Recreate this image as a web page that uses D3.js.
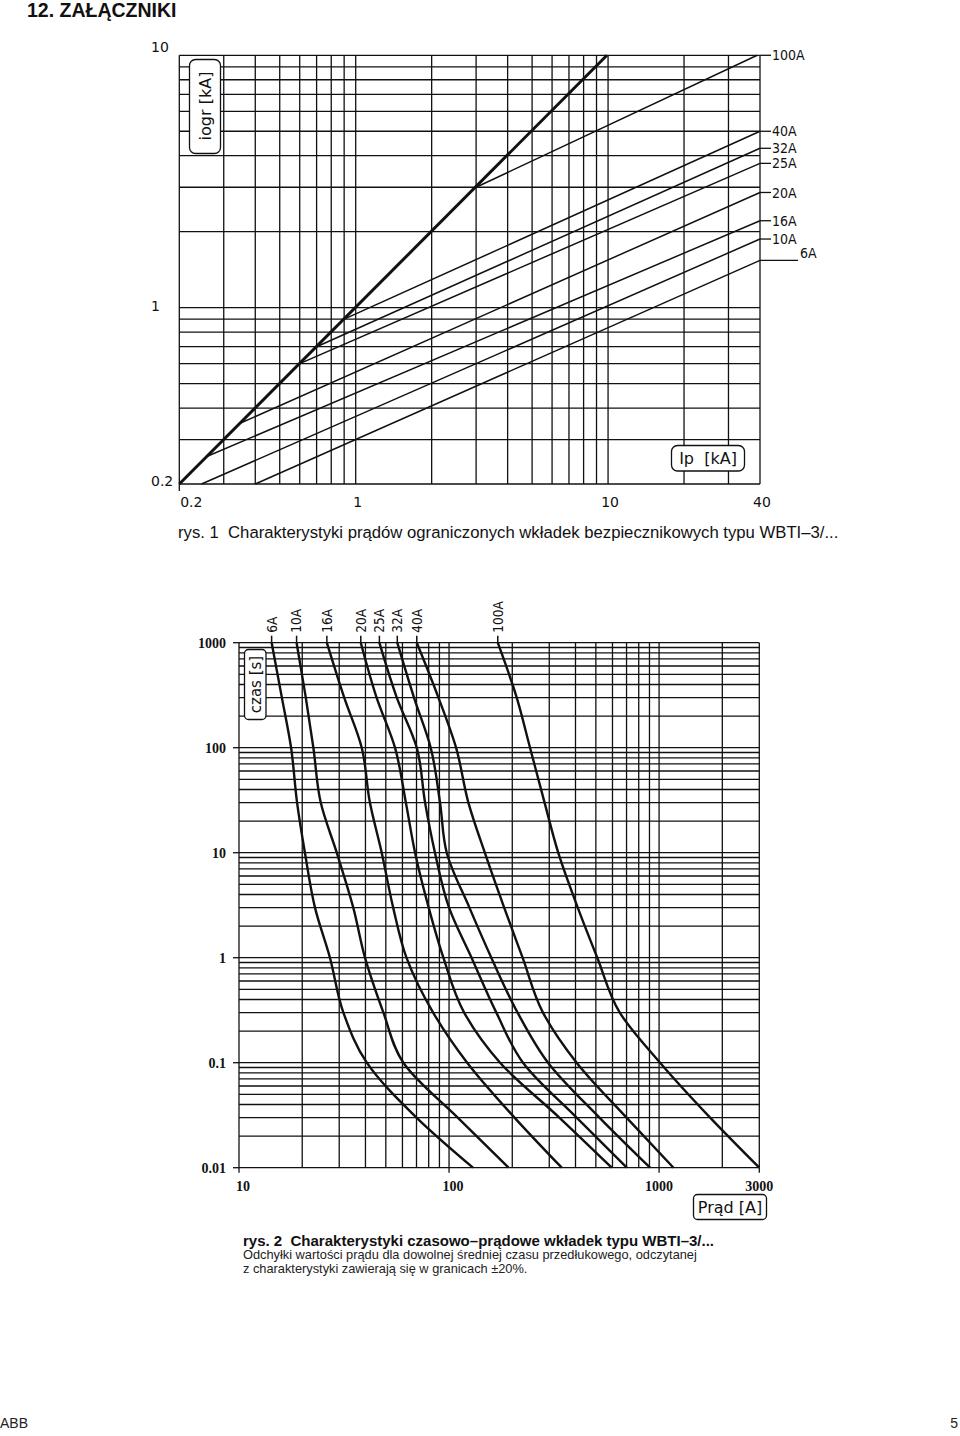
<!DOCTYPE html>
<html><head><meta charset="utf-8">
<script src="https://cdn.jsdelivr.net/npm/d3@7"></script>
<style>body{margin:0;background:#fff}</style>
</head><body>
<svg id="c" width="960" height="1436"></svg>
<script>
// ---------- DATA: chart 1 (limited peak current) ----------
const ipGridX = [0.2,0.3,0.4,0.5,0.6,0.7,0.8,0.9,1,2,3,4,5,6,7,8,9,10,20,30,40];
const ipGridY = [0.2,0.3,0.4,0.5,0.6,0.7,0.8,0.9,1,2,3,4,5,6,7,8,9,10];
const ipTickX = [0.2,1,10,40];
const ipTickXLabels = ["0.2","1","10","40"];
const ipTickY = [0.2,1,10];
const ipTickYLabels = ["0.2","1","10"];
const fuseNames = ["6A","10A","16A","20A","25A","32A","40A","100A"];
const limStartI = [0.4,0.245,0.257,0.348,0.6,0.7,0.9,3.0];
const limStartV = [0.2,0.2,0.257,0.348,0.6,0.7,0.9,3.0];
const limEndI = [40,40,40,40,40,40,40,39];
const limEndV = [1.54,1.87,2.21,2.86,3.73,4.28,5.0,10];
const peakLineI = [0.2, 9.9];
const peakLineV = [0.2, 10];

// ---------- DATA: chart 2 (time-current) ----------
const tcGridX = [10,20,30,40,50,60,70,80,90,100,200,300,400,500,600,700,800,900,1000,2000,3000];
const tcDecades = [0.01,0.1,1,10,100];
const tcTickX = [10,100,1000,3000];
const tcTickXLabels = ["10","100","1000","3000"];
const tcTickY = [1000,100,10,1,0.1,0.01];
const tcTickYLabels = ["1000","100","10","1","0.1","0.01"];
const tcTimes = [1000,300,100,30,10,3,1,0.3,0.1,0.03,0.01];
const tc6A   = [14.3,16.0,17.7,18.9,20.6,23.0,27.1,31.4,40.6,70,130];
const tc10A  = [18.8,20.8,22.6,24.5,29.2,35.0,39.8,48.7,60.6,110,192];
const tc16A  = [26.2,31.7,38.4,42.0,47.8,54.2,62.7,84,122,205,344];
const tc20A  = [38,45.2,55.3,62.3,68.9,80,94,118,175,335,595];
const tc25A  = [46.6,56.4,70.2,76.9,85.7,100,128,168,225,405,702];
const tc32A  = [56.7,68.1,81.8,90.6,97.5,125,159,212,296,520,906];
const tc40A  = [70.2,89,108,123.6,148,183,224,280,405,700,1170];
const tc100A = [170.6,210,243,285,331,410,508,650,1011,1750,3000];
const tcSeries = [tc6A,tc10A,tc16A,tc20A,tc25A,tc32A,tc40A,tc100A];

// ---------- DRAW ----------
const svg = d3.select("#c");
const INK = "#111";
const sans = "'Liberation Sans', Arial, sans-serif";
const round = "'DejaVu Sans', sans-serif";
const cond = "'DejaVu Sans Condensed', 'Liberation Sans Narrow', 'DejaVu Sans', sans-serif";

svg.append("text").attr("x",27).attr("y",17).attr("font-family",sans).attr("font-weight","bold")
  .attr("font-size",19.5).attr("fill",INK).text("12. ZAŁĄCZNIKI");

// ===== Chart 1 =====
const x1 = d3.scaleLog().domain([0.2,40]).range([179.3,760]);
const y1 = d3.scaleLog().domain([0.2,10]).range([484,55.3]);
const g1 = svg.append("g");
g1.selectAll("line.vx").data(ipGridX).join("line")
  .attr("x1",d=>x1(d)).attr("x2",d=>x1(d)).attr("y1",y1(0.2)).attr("y2",y1(10))
  .attr("stroke",INK).attr("stroke-width",1.3);
g1.selectAll("line.hy").data(ipGridY).join("line")
  .attr("y1",d=>y1(d)).attr("y2",d=>y1(d)).attr("x1",x1(0.2)).attr("x2",x1(40))
  .attr("stroke",INK).attr("stroke-width",1.3);
g1.append("line").attr("x1",x1(0.2)).attr("x2",x1(0.2)).attr("y1",y1(0.2)).attr("y2",y1(0.2)+7)
  .attr("stroke",INK).attr("stroke-width",1.3);
fuseNames.forEach((n,i)=>{
  g1.append("line").attr("x1",x1(limStartI[i])).attr("y1",y1(limStartV[i]))
    .attr("x2",x1(limEndI[i])).attr("y2",y1(limEndV[i]))
    .attr("stroke",INK).attr("stroke-width",1.5);
});
g1.append("line").attr("x1",x1(peakLineI[0])).attr("y1",y1(peakLineV[0]))
  .attr("x2",x1(peakLineI[1])).attr("y2",y1(peakLineV[1]))
  .attr("stroke",INK).attr("stroke-width",3);
fuseNames.forEach((n,i)=>{
  const yy = y1(limEndV[i]);
  if(n==="6A"){
    g1.append("line").attr("x1",x1(40)).attr("x2",x1(40)+38).attr("y1",yy).attr("y2",yy).attr("stroke",INK).attr("stroke-width",1.3);
    g1.append("text").attr("x",x1(40)+40).attr("y",yy-2).attr("font-family",cond).attr("font-size",14).attr("fill",INK).text(n);
  } else {
    g1.append("line").attr("x1",x1(40)).attr("x2",x1(40)+11).attr("y1",yy).attr("y2",yy).attr("stroke",INK).attr("stroke-width",1.3);
    g1.append("text").attr("x",x1(40)+12).attr("y",yy).attr("dy","0.36em").attr("font-family",cond).attr("font-size",14).attr("fill",INK).text(n);
  }
});
ipTickX.forEach((v,i)=>{
  g1.append("text").attr("x",x1(v)+(i===0?12:2)).attr("y",507).attr("text-anchor","middle")
    .attr("font-family",round).attr("font-size",14).attr("fill",INK).text(ipTickXLabels[i]);
});
ipTickY.forEach((v,i)=>{
  g1.append("text").attr("x",151).attr("y",y1(v)+(i===2?-8:(i===0?-3:-2))).attr("dy","0.36em")
    .attr("font-family",round).attr("font-size",14).attr("fill",INK).text(ipTickYLabels[i]);
});
g1.append("rect").attr("x",189.5).attr("y",59.5).attr("width",31).attr("height",94).attr("rx",6)
  .attr("fill","#fff").attr("stroke",INK).attr("stroke-width",1.3);
g1.append("text").attr("transform","translate(205,106) rotate(-90)").attr("text-anchor","middle").attr("dy","0.36em")
  .attr("font-family",round).attr("font-size",16).attr("fill",INK).text("iogr [kA]");
g1.append("rect").attr("x",671.5).attr("y",445.5).attr("width",73).attr("height",25.5).attr("rx",6)
  .attr("fill","#fff").attr("stroke",INK).attr("stroke-width",1.3);
g1.append("text").attr("x",708).attr("y",458).attr("text-anchor","middle").attr("dy","0.36em")
  .attr("font-family",round).attr("font-size",16).attr("fill",INK).attr("xml:space","preserve").text("Ip  [kA]");

svg.append("text").attr("x",178).attr("y",538).attr("font-family",sans).attr("font-size",16.7).attr("fill",INK)
  .attr("xml:space","preserve").text("rys. 1  Charakterystyki prądów ograniczonych wkładek bezpiecznikowych typu WBTI–3/...");

// ===== Chart 2 =====
const x2 = d3.scaleLog().domain([10,3000]).range([239,759.3]);
const y2 = d3.scaleLog().domain([0.01,1000]).range([1167.7,642.7]);
const g2 = svg.append("g");
const tcGridY = [];
tcDecades.forEach(d=>{ for(let k=1;k<=9;k++) tcGridY.push(d*k); });
tcGridY.push(1000);
g2.selectAll("line.vx").data(tcGridX).join("line")
  .attr("x1",d=>x2(d)).attr("x2",d=>x2(d)).attr("y1",y2(0.01)).attr("y2",y2(1000))
  .attr("stroke",INK).attr("stroke-width",1.3);
g2.selectAll("line.hy").data(tcGridY).join("line")
  .attr("y1",d=>y2(d)).attr("y2",d=>y2(d)).attr("x1",x2(10)).attr("x2",x2(3000))
  .attr("stroke",INK).attr("stroke-width",1.3);
tcTickY.forEach((v,i)=>{
  g2.append("line").attr("x1",x2(10)-6).attr("x2",x2(10)).attr("y1",y2(v)).attr("y2",y2(v)).attr("stroke",INK).attr("stroke-width",1.3);
  g2.append("text").attr("x",226).attr("y",y2(v)).attr("dy","0.36em").attr("text-anchor","end")
    .attr("font-family","'Liberation Serif', serif").attr("font-weight","bold").attr("font-size",14).attr("fill",INK).text(tcTickYLabels[i]);
});
tcTickX.forEach((v,i)=>{
  g2.append("line").attr("x1",x2(v)).attr("x2",x2(v)).attr("y1",y2(0.01)).attr("y2",y2(0.01)+5).attr("stroke",INK).attr("stroke-width",1.3);
  g2.append("text").attr("x",x2(v)+(i===0?4:(i===1?4:0))).attr("y",1191).attr("text-anchor","middle")
    .attr("font-family","'Liberation Serif', serif").attr("font-weight","bold").attr("font-size",14).attr("fill",INK).text(tcTickXLabels[i]);
});
g2.append("rect").attr("x",244.5).attr("y",649.5).attr("width",21.5).attr("height",70).attr("rx",4)
  .attr("fill","#fff").attr("stroke",INK).attr("stroke-width",1.3);
g2.append("text").attr("transform","translate(255.5,684.5) rotate(-90)").attr("text-anchor","middle").attr("dy","0.36em")
  .attr("font-family",round).attr("font-size",15).attr("fill",INK).text("czas [s]");
const line2 = d3.line().x(d=>x2(d[0])).y(d=>y2(d[1])).curve(d3.curveMonotoneY);
tcSeries.forEach((s,i)=>{
  const pts = tcTimes.map((t,k)=>[s[k],t]);
  g2.append("path").attr("d",line2(pts)).attr("fill","none").attr("stroke",INK).attr("stroke-width",2.4);
  const xt = x2(s[0]);
  g2.append("line").attr("x1",xt).attr("x2",xt).attr("y1",y2(1000)).attr("y2",y2(1000)-7).attr("stroke",INK).attr("stroke-width",1.5);
  g2.append("text").attr("transform",`translate(${xt},${y2(1000)-10}) rotate(-90)`).attr("dy","0.36em")
    .attr("font-family",cond).attr("font-size",13.5).attr("fill",INK).text(fuseNames[i]);
});
g2.append("rect").attr("x",693.5).attr("y",1194.5).attr("width",73).attr("height",25).attr("rx",4)
  .attr("fill","#fff").attr("stroke",INK).attr("stroke-width",1.3);
g2.append("text").attr("x",730).attr("y",1207).attr("text-anchor","middle").attr("dy","0.36em")
  .attr("font-family",round).attr("font-size",16).attr("fill",INK).text("Prąd [A]");

svg.append("text").attr("x",243).attr("y",1246).attr("font-family",sans).attr("font-weight","bold").attr("font-size",15)
  .attr("fill",INK).attr("xml:space","preserve").text("rys. 2  Charakterystyki czasowo–prądowe wkładek typu WBTI–3/...");
svg.append("text").attr("x",243).attr("y",1259).attr("font-family",sans).attr("font-size",12.8)
  .attr("fill","#222").text("Odchyłki wartości prądu dla dowolnej średniej czasu przedłukowego, odczytanej");
svg.append("text").attr("x",243).attr("y",1273).attr("font-family",sans).attr("font-size",12.8)
  .attr("fill","#222").text("z charakterystyki zawierają się w granicach ±20%.");

svg.append("text").attr("x",0).attr("y",1428).attr("font-family",sans).attr("font-size",14).attr("fill","#222").text("ABB");
svg.append("text").attr("x",958).attr("y",1428).attr("text-anchor","end").attr("font-family",sans).attr("font-size",14).attr("fill","#222").text("5");
</script>
</body></html>
